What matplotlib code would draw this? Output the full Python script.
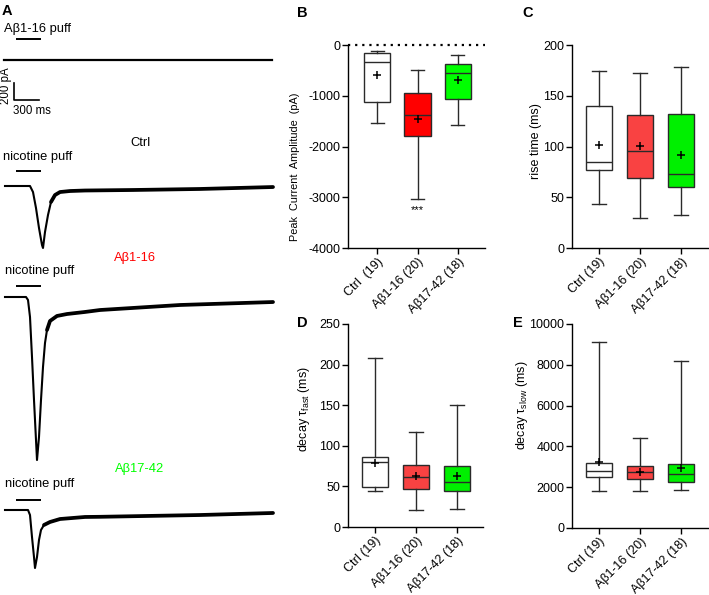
import matplotlib
matplotlib.use('Agg')
import matplotlib.pyplot as plt

plt.rcParams['font.family'] = ['Liberation Sans', 'DejaVu Sans']
plt.rcParams['mathtext.fontset'] = 'custom'
plt.rcParams['mathtext.rm'] = 'Liberation Sans'
plt.rcParams['mathtext.it'] = 'Liberation Sans:italic'
plt.rcParams['axes.unicode_minus'] = False

W, H = 709, 595

# ---------------- data ----------------
groups_b = ['Ctrl  (19)', 'Aβ1-16 (20)', 'Aβ17-42 (18)']
groups = ['Ctrl (19)', 'Aβ1-16 (20)', 'Aβ17-42 (18)']

# Peak current amplitude (pA)
peak_whislo = [-1535, -3040, -1570]
peak_q1 = [-1115, -1790, -1060]
peak_med = [-330, -1370, -550]
peak_q3 = [-160, -955, -375]
peak_whishi = [-110, -490, -200]
peak_mean = [-595, -1450, -680]

# rise time (ms)
rise_whislo = [43.7, 29.9, 32.5]
rise_q1 = [77.2, 69.0, 59.8]
rise_med = [84.4, 95.6, 73.2]
rise_q3 = [139.9, 131.0, 132.0]
rise_whishi = [174.7, 172.7, 178.7]
rise_mean = [101.5, 100.2, 92.0]

# decay tau fast (ms)
fast_whislo = [44.0, 21.4, 22.2]
fast_q1 = [49.8, 46.5, 44.0]
fast_med = [79.8, 61.3, 55.0]
fast_q3 = [86.8, 76.5, 75.2]
fast_whishi = [208.0, 117.2, 150.5]
fast_mean = [79.4, 63.3, 63.3]

# decay tau slow (ms)
slow_whislo = [1827, 1827, 1860]
slow_q1 = [2512, 2414, 2235]
slow_med = [2790, 2741, 2659]
slow_q3 = [3197, 3034, 3116]
slow_whishi = [9119, 4405, 8206]
slow_mean = [3250, 2724, 2936]

# Example traces (time in ms, current in pA)
abeta_puff_t = [-12, 3204]
abeta_puff_i = [0, 0]

ctrl_t = [0, 300, 336, 372, 408, 444, 456, 480, 516, 552, 600, 660, 780, 960, 1536, 2340, 3216]
ctrl_i = [0, 0, -71, -259, -494, -694, -729, -541, -341, -188, -106, -71, -59, -53, -47, -35, -12]

ab16_t = [0, 252, 276, 300, 324, 348, 372, 384, 408, 432, 456, 480, 504, 540, 624, 744, 960, 1140, 2100, 3216]
ab16_i = [0, 0, -35, -235, -706, -1211, -1682, -1917, -1646, -1211, -823, -541, -388, -282, -223, -200,
          -176, -153, -94, -59]

ab17_t = [0, 276, 300, 324, 348, 360, 384, 408, 432, 468, 540, 660, 960, 1140, 2340, 3216]
ab17_i = [0, 0, -59, -318, -553, -682, -553, -353, -235, -176, -141, -106, -82, -80, -59, -35]

puff_start = 132   # ms
puff_end = 432     # ms
scale_ms = 300
scale_pa = 200

red_b = '#ff0000'
red = '#f94242'
green = '#00ff00'
green2 = '#00f000'
edge = '#2a2a2a'

fig = plt.figure(figsize=(W / 100, H / 100), dpi=100)

FS = 9


def fx(px):
    return px / W


def fy(py):
    return 1 - py / H


# ---------------- Panel A ----------------
MS_PER_PX = 12.0
PA_PER_PX = 11.76
axA = fig.add_axes([0, 0, 280 / W, 1])
axA.set_xlim(-5 * MS_PER_PX, (280 - 5) * MS_PER_PX)
axA.set_ylim(-H * PA_PER_PX, 0)
axA.axis('off')


def yoff(py):
    return -py * PA_PER_PX


def plot_trace(t, i, base_py, tail_from):
    off = yoff(base_py)
    axA.plot(t, [v + off for v in i], color='black', lw=1.5, solid_joinstyle='round')
    tt = [a for a in t if a >= tail_from]
    ii = [b + off for a, b in zip(t, i) if a >= tail_from]
    axA.plot(tt, ii, color='black', lw=2.7, solid_capstyle='round', solid_joinstyle='round')


def puff_bar(py):
    axA.plot([puff_start, puff_end], [yoff(py), yoff(py)], color='black', lw=1.4, solid_capstyle='butt')


# top trace (Abeta puff)
axA.plot(abeta_puff_t, [v + yoff(60) for v in abeta_puff_i], color='black', lw=1.6)
puff_bar(39)
fig.text(fx(4), fy(29), 'Aβ1-16 puff', fontsize=9.3, va='center', ha='left')

# scale bar
sx0 = (14 - 5) * MS_PER_PX
sy0 = yoff(100)
axA.plot([sx0, sx0, sx0 + scale_ms], [sy0 + scale_pa, sy0, sy0], color='black', lw=1.2)
fig.text(fx(6), fy(86), '200 pA', fontsize=8.3, rotation=90, va='center', ha='center')
fig.text(fx(13), fy(111), '300 ms', fontsize=8.3, va='center', ha='left')

# Ctrl
fig.text(fx(140), fy(143), 'Ctrl', fontsize=9.3, ha='center', va='center')
fig.text(fx(3), fy(157), 'nicotine puff', fontsize=9.3, ha='left', va='center')
puff_bar(171)
plot_trace(ctrl_t, ctrl_i, 186, 552)

# Abeta1-16
fig.text(fx(135), fy(258), 'Aβ1-16', fontsize=9.3, ha='center', va='center', color=red_b)
fig.text(fx(5), fy(271), 'nicotine puff', fontsize=9.3, ha='left', va='center')
puff_bar(286)
plot_trace(ab16_t, ab16_i, 297, 504)

# Abeta17-42
fig.text(fx(140), fy(469), 'Aβ17-42', fontsize=9.3, ha='center', va='center', color=green)
fig.text(fx(5), fy(484), 'nicotine puff', fontsize=9.3, ha='left', va='center')
puff_bar(500)
plot_trace(ab17_t, ab17_i, 510, 468)


# ---------------- box panels ----------------
def make_stats(lo, q1, med, q3, hi, mean, labels):
    return [dict(whislo=a, q1=b, med=c, q3=d, whishi=e, mean=f, fliers=[], label=g)
            for a, b, c, d, e, f, g in zip(lo, q1, med, q3, hi, mean, labels)]


def box_panel(rect, stats, colors, ylim, yticks, ylabel, xlim, label_xy, label_fs=FS):
    ax = fig.add_axes(rect)
    bp = ax.bxp(stats, positions=[0, 1, 2], widths=0.65, showmeans=True, patch_artist=True,
                boxprops=dict(edgecolor=edge, linewidth=1.0),
                medianprops=dict(color=edge, linewidth=1.0),
                whiskerprops=dict(color=edge, linewidth=1.0),
                capprops=dict(color=edge, linewidth=1.0),
                meanprops=dict(marker='+', markeredgecolor='black', markersize=6, markeredgewidth=1.1))
    for patch, c in zip(bp['boxes'], colors):
        patch.set_facecolor(c)
    ax.set_ylim(*ylim)
    ax.set_xlim(*xlim)
    ax.set_yticks(yticks)
    ax.spines['top'].set_visible(False)
    ax.spines['right'].set_visible(False)
    for s in ('left', 'bottom'):
        ax.spines[s].set_linewidth(1.0)
    ax.tick_params(direction='out', length=4, width=1.0, labelsize=FS, pad=1.5)
    plt.setp(ax.get_xticklabels(), rotation=45, ha='right', rotation_mode='anchor')
    ax.set_ylabel(ylabel, fontsize=label_fs)
    ax.yaxis.set_label_coords(*label_xy)
    return ax


axB = box_panel([348 / W, 1 - 248 / H, 137 / W, 203 / H],
                make_stats(peak_whislo, peak_q1, peak_med, peak_q3, peak_whishi, peak_mean, groups_b),
                ['white', red_b, green], (-4000, 0), [0, -1000, -2000, -3000, -4000],
                'Peak  Current  Amplitude  (pA)', (-0.72, 2.67), (-0.35, 0.40), label_fs=7.8)
axB.axhline(0, color='black', ls=(0, (1, 2.2)), lw=1.6, clip_on=False, zorder=5)
axB.text(1, -3260, '***', ha='center', va='center', fontsize=8)

axC = box_panel([572 / W, 1 - 248 / H, 136 / W, 203 / H],
                make_stats(rise_whislo, rise_q1, rise_med, rise_q3, rise_whishi, rise_mean, groups),
                ['white', red, green2], (0, 200), [0, 50, 100, 150, 200],
                'rise time (ms)', (-0.66, 2.66), (-0.22, 0.527))

axD = box_panel([348 / W, 1 - 527 / H, 135 / W, 203 / H],
                make_stats(fast_whislo, fast_q1, fast_med, fast_q3, fast_whishi, fast_mean, groups),
                ['white', red, green2], (0, 250), [0, 50, 100, 150, 200, 250],
                r'decay τ$_{\mathregular{fast}}$ (ms)', (-0.66, 2.63), (-0.27, 0.58))

axE = box_panel([572 / W, 1 - 528 / H, 136 / W, 204 / H],
                make_stats(slow_whislo, slow_q1, slow_med, slow_q3, slow_whishi, slow_mean, groups),
                ['white', red, green2], (0, 10000), [0, 2000, 4000, 6000, 8000, 10000],
                r'decay τ$_{\mathregular{slow}}$ (ms)', (-0.66, 2.66), (-0.31, 0.60))

# panel letters
for letter, px, py in [('A', 2, 11), ('B', 297, 13), ('C', 522, 13), ('D', 297, 323), ('E', 513, 323)]:
    fig.text(fx(px), fy(py), letter, fontsize=10.5, fontweight='bold', ha='left', va='center')

fig.savefig('out.png', dpi=100)
